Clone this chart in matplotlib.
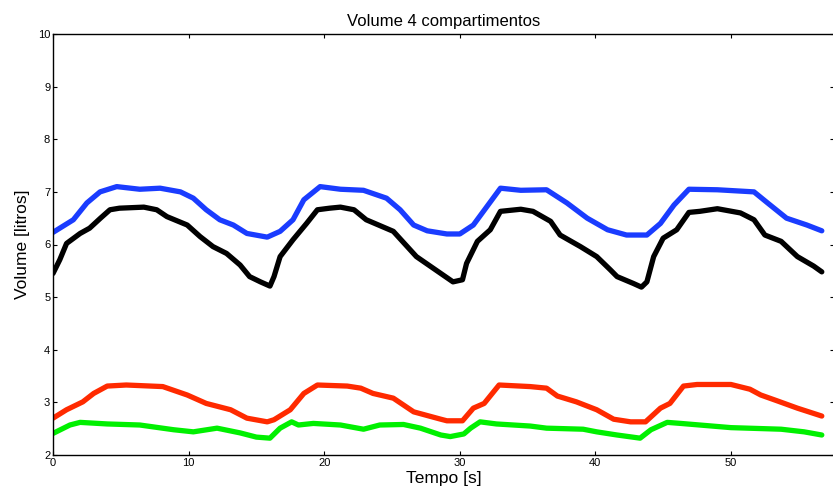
import matplotlib
matplotlib.use("Agg")
import matplotlib.pyplot as plt

# Data
blue_t = [0, 1.5, 2.5, 3.47, 4.7, 6.4, 7.9, 9.4, 10.35, 11.3, 12.3, 13.3, 14.3, 15.8, 16.75, 17.7, 18.5, 19.7,
          21.2, 22.9, 24.6, 25.6, 26.6, 27.6, 29.05, 30.0, 31.0, 32.0, 33.0, 34.5, 36.4, 37.9, 39.4, 40.9,
          42.3, 43.8, 44.8, 45.8, 46.9, 49.0, 51.7, 52.7, 54.1, 55.6, 56.7]
blue_v = [6.23, 6.47, 6.79, 7.0, 7.1, 7.05, 7.07, 7.0, 6.88, 6.66, 6.47, 6.37, 6.21, 6.14, 6.25, 6.47, 6.85, 7.1,
          7.05, 7.03, 6.88, 6.66, 6.37, 6.26, 6.2, 6.2, 6.37, 6.72, 7.07, 7.03, 7.04, 6.79, 6.5, 6.28,
          6.18, 6.18, 6.4, 6.75, 7.05, 7.04, 7.0, 6.79, 6.5, 6.37, 6.26]

black_t = [0, 0.5, 1.0, 2.0, 2.7, 3.5, 4.2, 4.9, 6.7, 7.65, 8.4, 9.9, 10.85, 11.8, 12.8, 13.8, 14.5, 15.3, 16.0,
           16.3, 16.75, 17.7, 18.7, 19.5, 20.4, 21.2, 22.2, 23.1, 25.1, 26.8, 28.6, 29.5, 30.2, 30.5, 31.3,
           32.25, 33.0, 34.5, 35.4, 36.7, 37.4, 38.9, 40.1, 41.1, 41.6, 42.8, 43.4, 43.8, 44.3, 45.0, 46.0,
           46.9, 47.7, 49.0, 50.7, 51.7, 52.5, 53.7, 54.9, 56.1, 56.7]
black_v = [5.45, 5.71, 6.02, 6.21, 6.31, 6.5, 6.66, 6.69, 6.71, 6.66, 6.53, 6.37, 6.15, 5.96, 5.83, 5.61, 5.39, 5.29, 5.21,
           5.39, 5.77, 6.09, 6.4, 6.66, 6.69, 6.71, 6.66, 6.47, 6.25, 5.77, 5.45, 5.29, 5.33, 5.64, 6.06,
           6.28, 6.63, 6.67, 6.63, 6.44, 6.18, 5.96, 5.77, 5.52, 5.39, 5.26, 5.19, 5.29, 5.77, 6.12, 6.28,
           6.61, 6.63, 6.68, 6.6, 6.47, 6.18, 6.06, 5.77, 5.59, 5.48]

red_t = [0, 1.0, 2.2, 3.0, 4.0, 5.4, 8.1, 9.9, 11.3, 13.1, 14.3, 15.8, 16.3, 17.5, 18.5, 19.5, 21.7, 22.7, 23.6,
         25.1, 26.6, 28.6, 29.05, 30.2, 31.0, 31.8, 32.9, 35.2, 36.4, 37.2, 38.6, 40.1, 41.35, 42.6, 43.7,
         44.8, 45.5, 46.5, 47.5, 50.0, 51.4, 52.2, 53.4, 54.9, 56.7]
red_v = [2.70, 2.86, 3.01, 3.17, 3.31, 3.33, 3.30, 3.14, 2.98, 2.86, 2.70, 2.63, 2.67, 2.86, 3.17, 3.33, 3.31, 3.27, 3.17,
         3.08, 2.82, 2.68, 2.65, 2.65, 2.89, 2.98, 3.33, 3.30, 3.27, 3.12, 3.01, 2.86, 2.68, 2.63, 2.63,
         2.89, 2.98, 3.31, 3.34, 3.34, 3.25, 3.14, 3.03, 2.89, 2.74]

green_t = [0, 1.25, 2.0, 4.0, 6.4, 8.9, 10.35, 12.1, 13.8, 15.0, 16.0, 16.75, 17.6, 18.1, 19.2, 21.2, 22.9, 24.1,
           25.85, 27.1, 28.6, 29.3, 30.3, 30.8, 31.5, 32.7, 35.2, 36.4, 39.1, 40.1, 41.6, 43.3, 44.1, 45.3,
           46.3, 50.0, 53.7, 55.4, 56.7]
green_v = [2.41, 2.57, 2.62, 2.59, 2.57, 2.48, 2.44, 2.51, 2.42, 2.34, 2.32, 2.51, 2.63, 2.57, 2.60, 2.57, 2.49, 2.57,
           2.58, 2.51, 2.38, 2.35, 2.40, 2.51, 2.63, 2.59, 2.55, 2.51, 2.49, 2.44, 2.38, 2.32, 2.48, 2.62,
           2.60, 2.52, 2.49, 2.44, 2.38]

x_ticks = [0, 10, 20, 30, 40, 50]
y_ticks = [2, 3, 4, 5, 6, 7, 8, 9, 10]

plt.rcParams['font.family'] = ['Liberation Sans', 'DejaVu Sans']

fig = plt.figure(figsize=(8.33, 4.95), dpi=100)
W, H = 833, 495
ax = fig.add_axes([53 / W, (H - 455) / H, 781 / W, 421 / H])

lw = 3.8
for t, v, c in [(blue_t, blue_v, '#1a3cff'), (black_t, black_v, 'black'),
                (red_t, red_v, '#ff2a00'), (green_t, green_v, '#00f000')]:
    ax.plot(t, v, color=c, lw=lw, solid_joinstyle='round', solid_capstyle='round')

ax.set_xlim(0, 57.6)
ax.set_ylim(2, 10)
ax.set_xticks(x_ticks)
ax.set_yticks(y_ticks)
ax.tick_params(direction='in', length=3, width=0.8, labelsize=8, top=True, right=True, pad=2)
for s in ax.spines.values():
    s.set_linewidth(1.0)

ax.set_title('Volume 4 compartimentos', fontsize=12, pad=6)
ax.set_xlabel('Tempo [s]', fontsize=12.5, labelpad=2)
ax.set_ylabel('Volume [litros]', fontsize=12.5, labelpad=6)

fig.savefig('out.png', dpi=100)
